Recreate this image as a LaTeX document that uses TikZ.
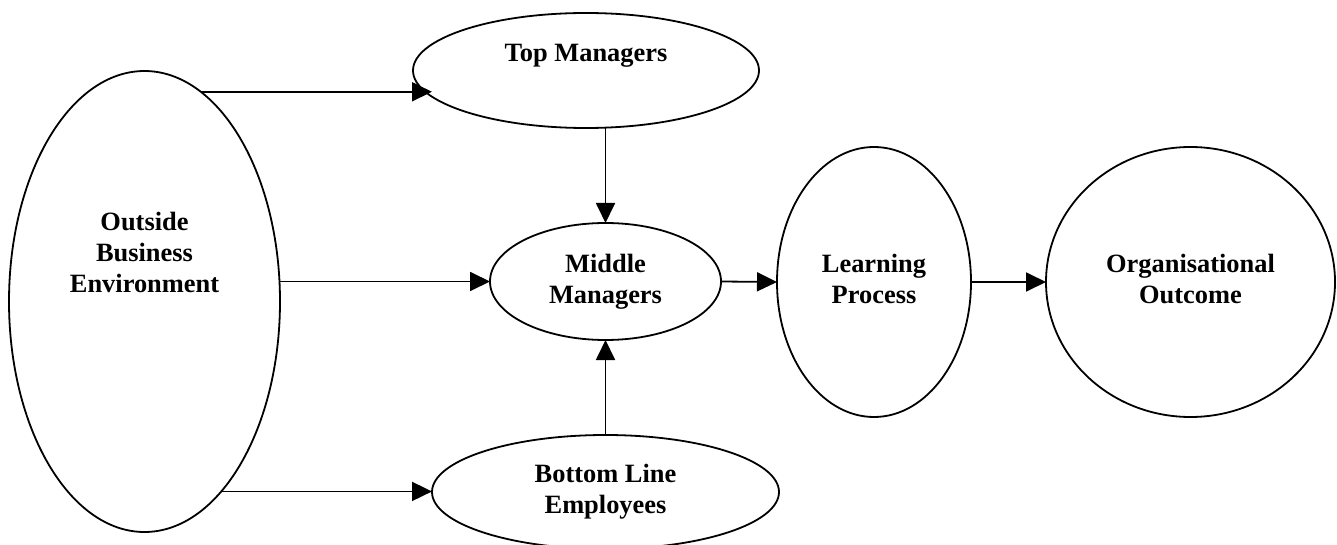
\documentclass[tikz,border=0pt]{standalone}
\usepackage{fontspec}
\setmainfont{Liberation Serif}
\usetikzlibrary{shapes.geometric,arrows.meta}
\newcommand{\duo}[2]{\begin{tabular}{c}#1\\#2\end{tabular}}
\newcommand{\tall}[3]{\begin{tabular}{c}#1\\#2\\#3\\~\\~\\~\end{tabular}}
\tikzset{
  blob/.style={ellipse, draw, line width=1.8pt, inner sep=0pt, outer sep=0pt,
               font=\fontsize{26.4pt}{31pt}\selectfont\bfseries},
  arr/.style={-{Triangle[length=20pt,width=19pt]}, line width=1.8pt}
}
\begin{document}
\begin{tikzpicture}[x=1pt,y=-1pt]
  \useasboundingbox (0,0) rectangle (1337,545);
  \node[blob, minimum width=271pt, minimum height=461pt] (OBE) at (144.5,301.5) {\tall{Outside}{Business}{Environment}};
  \node[blob, minimum width=346pt, minimum height=115pt] (TM) at (586,70.5) {\duo{Top Managers}{~}};
  \node[blob, minimum width=231pt, minimum height=117pt] (MM) at (605.5,281.5) {\duo{Middle}{Managers}};
  \node[blob, minimum width=347pt, minimum height=114pt] (BLE) at (605.5,492) {\duo{Bottom Line}{Employees}};
  \node[blob, minimum width=194pt, minimum height=270pt] (LP) at (874,282) {\duo{Learning}{Process}};
  \node[blob, minimum width=289pt, minimum height=270pt] (OO) at (1190.5,282) {\duo{Organisational}{Outcome}};
  \coordinate (TMin) at ([xshift=19pt]TM.west);
  \draw[arr] (OBE.75) -- (OBE.75 -| TMin);
  \draw[arr] (OBE.east |- MM.west) -- (MM.west);
  \draw[arr] (OBE.-68.5) -- (OBE.-68.5 -| BLE.west);
  \draw[arr] (TM.south -| MM.north) -- (MM.north);
  \draw[arr] (BLE.north) -- (MM.south);
  \draw[arr] (MM.east) -- (LP.west);
  \draw[arr] (LP.east) -- (OO.west);
\end{tikzpicture}
\end{document}
